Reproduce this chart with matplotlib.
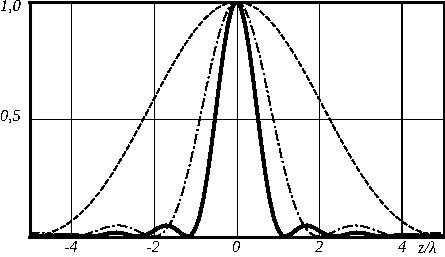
import numpy as np
import matplotlib
matplotlib.use("Agg")
import matplotlib.pyplot as plt

plt.rcParams['font.family'] = ['Liberation Serif', 'DejaVu Serif']
plt.rcParams['font.style'] = 'italic'
plt.rcParams['lines.antialiased'] = False
plt.rcParams['text.antialiased'] = False

# sample positions z/lambda
z_fine = np.linspace(-5, 5, 101)
z_coarse = np.linspace(-5, 5, 41)

# narrow curve (thick solid)
thick = [0.003, 0.001, 0.000, 0.000, 0.001, 0.002, 0.004, 0.006, 0.008, 0.008,
         0.008, 0.006, 0.004, 0.002, 0.000, 0.000, 0.002, 0.005, 0.009, 0.013,
         0.015, 0.017, 0.015, 0.012, 0.007, 0.003, 0.000, 0.001, 0.005, 0.013,
         0.024, 0.035, 0.043, 0.047, 0.045, 0.036, 0.022, 0.008, 0.000, 0.005,
         0.030, 0.080, 0.158, 0.264, 0.392, 0.532, 0.675, 0.805, 0.909, 0.977,
         1.000,
         0.977, 0.909, 0.805, 0.675, 0.532, 0.392, 0.264, 0.158, 0.080, 0.030,
         0.005, 0.000, 0.008, 0.022, 0.036, 0.045, 0.047, 0.043, 0.035, 0.024,
         0.013, 0.005, 0.001, 0.000, 0.003, 0.007, 0.012, 0.015, 0.017, 0.015,
         0.013, 0.009, 0.005, 0.002, 0.000, 0.000, 0.002, 0.004, 0.006, 0.008,
         0.008, 0.008, 0.006, 0.004, 0.002, 0.001, 0.000, 0.000, 0.001, 0.003]

# medium curve (dash-dot)
dashdot = [0.016, 0.017, 0.016, 0.015, 0.013, 0.010, 0.007, 0.005, 0.002, 0.001,
           0.000, 0.001, 0.003, 0.006, 0.011, 0.017, 0.023, 0.030, 0.036, 0.041,
           0.045, 0.047, 0.047, 0.044, 0.039, 0.032, 0.024, 0.016, 0.008, 0.002,
           0.000, 0.003, 0.012, 0.029, 0.055, 0.090, 0.135, 0.190, 0.255, 0.327,
           0.405, 0.488, 0.573, 0.657, 0.737, 0.811, 0.875, 0.928, 0.968, 0.992,
           1.000,
           0.992, 0.968, 0.928, 0.875, 0.811, 0.737, 0.657, 0.573, 0.488, 0.405,
           0.327, 0.255, 0.190, 0.135, 0.090, 0.055, 0.029, 0.012, 0.003, 0.000,
           0.002, 0.008, 0.016, 0.024, 0.032, 0.039, 0.044, 0.047, 0.047, 0.045,
           0.041, 0.036, 0.030, 0.023, 0.017, 0.011, 0.006, 0.003, 0.001, 0.000,
           0.001, 0.002, 0.005, 0.007, 0.010, 0.013, 0.015, 0.016, 0.017, 0.016]

# wide curve (thin dashed)
dashed = [0.000, 0.005, 0.016, 0.035, 0.063, 0.100, 0.147, 0.203, 0.268, 0.340,
          0.418, 0.500, 0.583, 0.666, 0.744, 0.816, 0.879, 0.930, 0.969, 0.992,
          1.000,
          0.992, 0.969, 0.930, 0.879, 0.816, 0.744, 0.666, 0.583, 0.500, 0.418,
          0.340, 0.268, 0.203, 0.147, 0.100, 0.063, 0.035, 0.016, 0.005, 0.000]

x_grid = [-4, -2, 0, 2, 4]
x_labels = ['-4', '-2', '0', '2', '4']
y_grid = [0.5]
y_labels = {1.0: '1,0', 0.5: '0,5'}

W, H = 445, 257
fig = plt.figure(figsize=(W / 100, H / 100), dpi=100)
ax = fig.add_axes([29.5 / W, 1 - 236.5 / H, 414 / W, 235 / H])
ax.set_xlim(-5, 5)
ax.set_ylim(0, 1)

for xv in x_grid:
    ax.axvline(xv, color='black', lw=1.2 if xv == 4 else 0.5, zorder=1)
for yv in y_grid:
    ax.axhline(yv, color='black', lw=0.5, zorder=1)

ax.plot(z_coarse, dashed, color='black', lw=0.6, ls=(0, (7, 3)), zorder=2)
ax.plot(z_fine, dashdot, color='black', lw=0.6, ls=(0, (12, 4, 2, 4)), zorder=2)
ax.plot(z_fine, thick, color='black', lw=2.2, zorder=3, solid_joinstyle='round')

ax.set_xticks(x_grid)
ax.set_xticklabels(x_labels)
ax.set_yticks([])
ax.tick_params(axis='x', length=0, pad=2.5, labelsize=12)

for yv, lab in y_labels.items():
    ax.text(-5.2, yv - 0.024 if yv == 1.0 else yv + 0.01, lab, ha='right', va='center',
            fontsize=12, clip_on=False)
ax.annotate('z/λ', xy=(4.6, 0), xycoords='data', xytext=(0, -9),
            textcoords='offset points', ha='center', va='center', fontsize=12)

for side in ['left', 'top', 'bottom']:
    ax.spines[side].set_linewidth(2.2)
ax.spines['right'].set_linewidth(1.4)

fig.savefig('out.png', dpi=100)
